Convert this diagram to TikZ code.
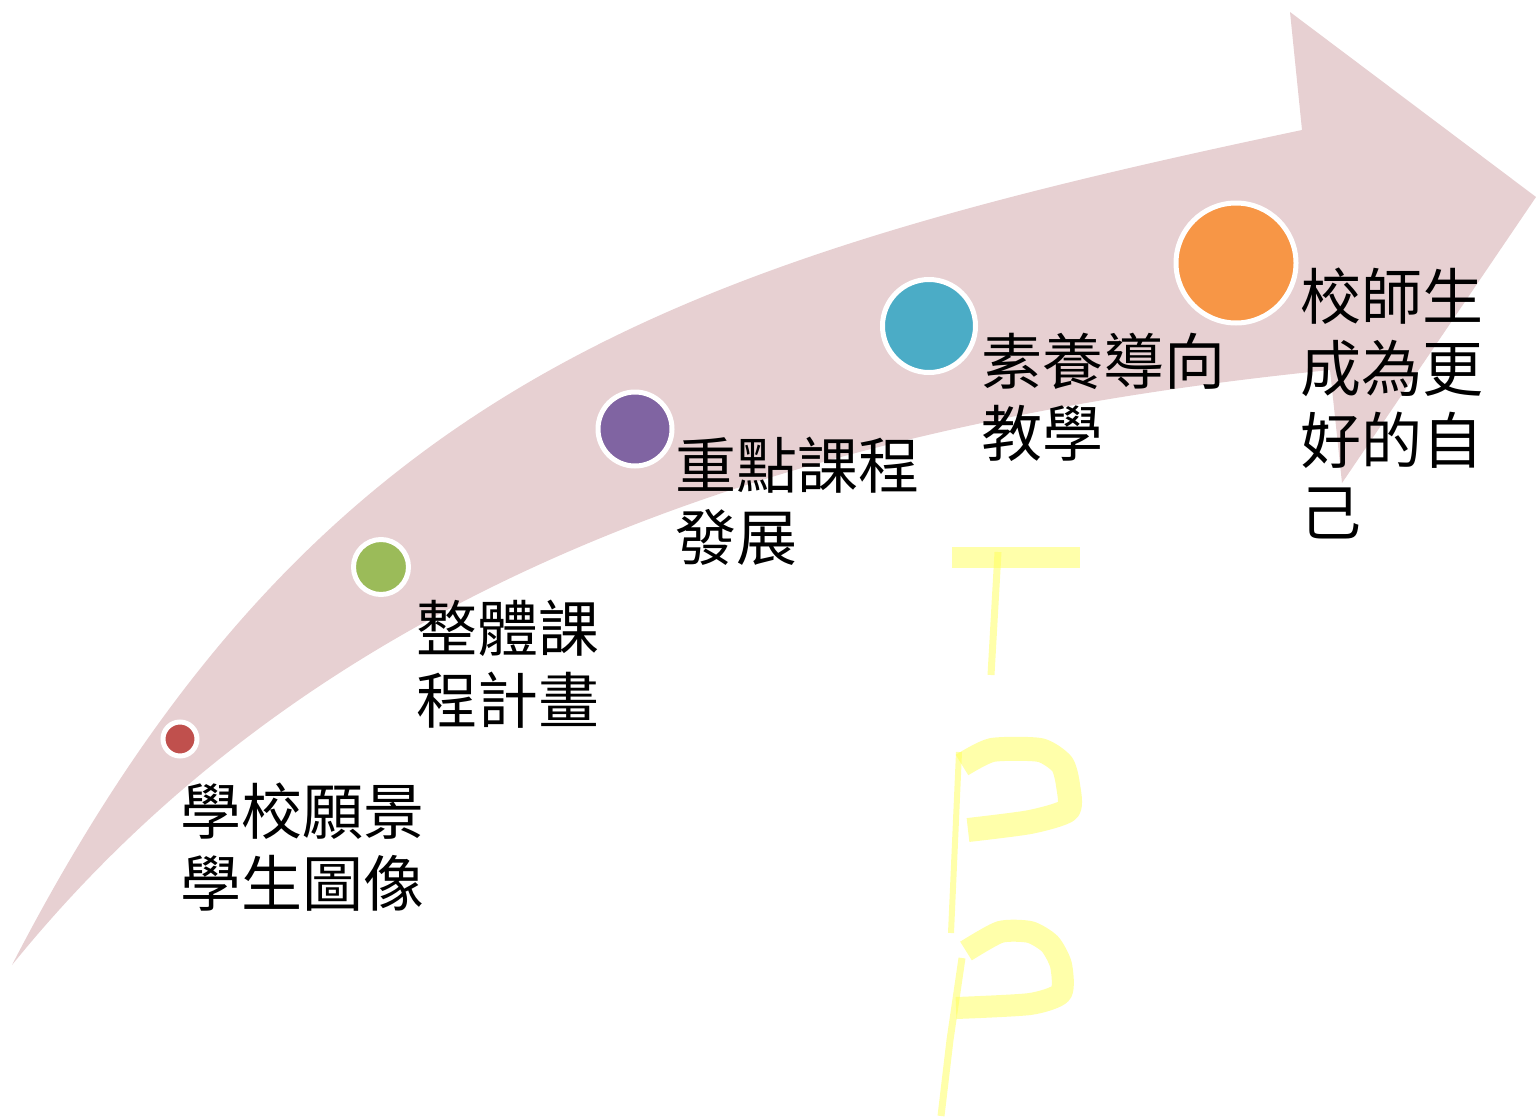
\documentclass[tikz,border=0pt]{standalone}
\usepackage{fontspec}
\newfontfamily\cjk{Noto Sans CJK TC}
\definecolor{arrowfill}{HTML}{E7D0D2}
\definecolor{cred}{HTML}{C0504D}
\definecolor{cgreen}{HTML}{9BBB59}
\definecolor{cpurple}{HTML}{8064A2}
\definecolor{cteal}{HTML}{4BACC6}
\definecolor{corange}{HTML}{F79646}
\definecolor{hlyellow}{RGB}{255,255,85}
\tikzset{
  dot/.style={circle, draw=white, line width=5pt, inner sep=0pt},
  label/.style={anchor=north west, inner sep=0pt, align=left, text=black,
    font={\cjk\fontsize{61}{72}\selectfont}},
  hl/.style={draw=hlyellow, opacity=0.5, line cap=butt, line join=round}
}
\begin{document}
\begin{tikzpicture}[x=1pt,y=-1pt]
\useasboundingbox (0,0) rectangle (1536,1116);
% curved arrow
\fill[arrowfill] (12,965) .. controls (310,388) and (666,264) .. (1302,130)
  -- (1290,12) -- (1536,197) -- (1342,483) -- (1330,370)
  .. controls (773,426) and (314,592) .. (12,965) -- cycle;
% yellow handwritten marks
\draw[hl, line width=21pt] (952,557.5) -- (1080,557.5);
\draw[hl, line width=7pt] (998,552) -- (991,675);
\draw[hl, line width=24pt] plot[smooth, tension=0.4] coordinates {(962,765) (992,750) (1040,750) (1062,764) (1068,785) (1068,810) (1030,822) (968,830)};
\draw[hl, line width=6pt] (959,752) -- (951,933);
\draw[hl, line width=22pt] plot[smooth, tension=0.4] coordinates {(966,951) (1000,932) (1030,932) (1050,944) (1061,965) (1061,993) (1030,1004) (956,1008)};
\draw[hl, line width=7pt] (962,958) -- (950,1040) -- (941,1116);
% circles
\node[dot, fill=cred, minimum size=34pt] (c1) at (180,739) {};
\node[dot, fill=cgreen, minimum size=55pt] (c2) at (381,567) {};
\node[dot, fill=cpurple, minimum size=74pt] (c3) at (635,429) {};
\node[dot, fill=cteal, minimum size=93pt] (c4) at (929,326) {};
\node[dot, fill=corange, minimum size=120pt] (c5) at (1236,263) {};
% labels
\node[label] (t1) at (180,783) {學校願景\\學生圖像};
\node[label] (t2) at (416,600) {整體課\\程計畫};
\node[label] (t3) at (675,437) {重點課程\\發展};
\node[label] (t4) at (981,333) {素養導向\\教學};
\node[label] (t5) at (1300,268) {校師生\\成為更\\好的自\\己};
\end{tikzpicture}
\end{document}
